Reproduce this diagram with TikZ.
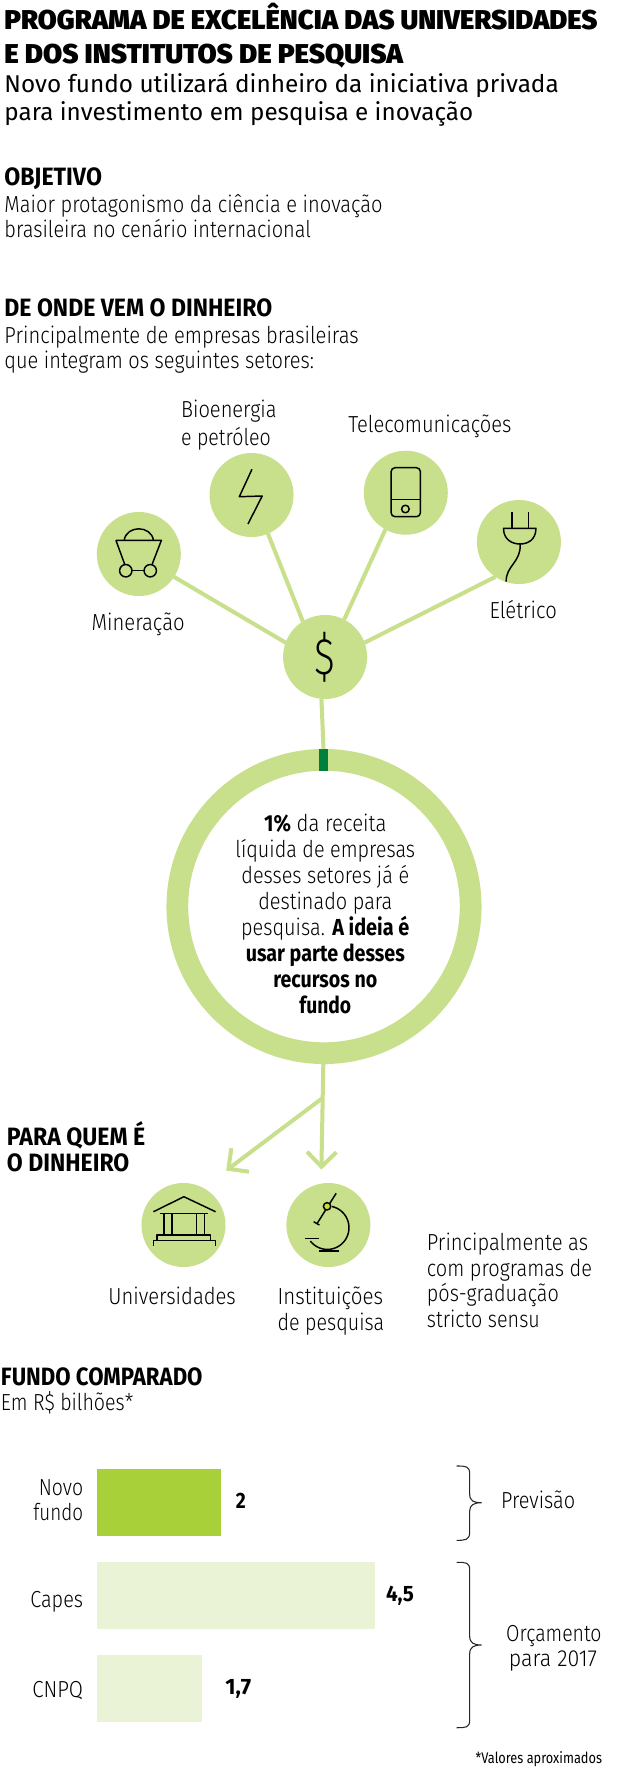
\documentclass[tikz,border=0pt]{standalone}
\usepackage{fontspec}
\usepackage{graphicx}
\usetikzlibrary{arrows.meta}
\newfontfamily\fl{Fira Sans Light}
\newfontfamily\fr{Fira Sans}
\newfontfamily\fb{Fira Sans}
\newfontfamily\fx{Fira Sans Black}
\newcommand\ftitle{\fx\fontsize{20.4}{20.4}\selectfont}
\newcommand\fsub{\fr\fontsize{18.2}{18.2}\selectfont}
\newcommand\fhead{\fb\bfseries\fontsize{18.8}{18.8}\selectfont}
\newcommand\fbody{\fl\fontsize{17.4}{17.4}\selectfont}
\newcommand\fval{\fb\bfseries\fontsize{16.7}{16.7}\selectfont}
\newcommand\fnote{\fr\fontsize{11.5}{11.5}\selectfont}
\newcommand\fring{\fb\bfseries\fontsize{17.4}{17.4}\selectfont}
\newlength\pxw
\newcommand\fitw[2]{\setlength\pxw{#1pt}\setlength\pxw{0.7463\pxw}\resizebox{\pxw}{\height}{#2}}
\newcommand\lab[7]{\node[txt,anchor=#5] (#1) at (#2,#3) {\fitw{#4}{#6#7}};}
\definecolor{lgreen}{HTML}{C8DF8B}
\definecolor{dgreen}{HTML}{00803C}
\definecolor{bgreen}{HTML}{A8D038}
\definecolor{pgreen}{HTML}{EAF3D6}
\definecolor{dotgreen}{HTML}{C4DC3C}
\tikzset{
 txt/.style={inner sep=0pt,outer sep=0pt,text=black},
 disc/.style={circle,fill=lgreen,minimum size=63pt,inner sep=0pt,outer sep=0pt},
 conn/.style={draw=lgreen,line width=3pt},
 arrowconn/.style={conn,-{Straight Barb[length=11pt,width=22pt,line width=3pt]}},
 icon/.style={draw=black,line width=1.1pt,line join=round},
 brace/.style={draw=black!85,line width=0.8pt},
 barfill/.style={inner sep=0pt,outer sep=0pt}
}
\begin{document}
\begin{tikzpicture}[x=0.7463pt,y=-0.75pt]
\useasboundingbox[fill=white] (0,0) rectangle (623.1,1771);
% header
\lab{t1}{4.5}{29.2}{596}{base west}{\ftitle}{PROGRAMA DE EXCELÊNCIA DAS UNIVERSIDADES}
\lab{t2}{4.5}{63}{400.5}{base west}{\ftitle}{E DOS INSTITUTOS DE PESQUISA}
\lab{s1}{4.5}{92.7}{557}{base west}{\fsub}{Novo fundo utilizará dinheiro da iniciativa privada}
\lab{s2}{4.5}{120.7}{471}{base west}{\fsub}{para investimento em pesquisa e inovação}
\lab{h1}{4.5}{185}{98}{base west}{\fhead}{OBJETIVO}
\lab{b1}{4.5}{212}{380}{base west}{\fbody}{Maior protagonismo da ciência e inovação}
\lab{b2}{4.5}{237}{308}{base west}{\fbody}{brasileira no cenário internacional}
\lab{h2}{4.5}{316.7}{269}{base west}{\fhead}{DE ONDE VEM O DINHEIRO}
\lab{b3}{4.5}{343}{356}{base west}{\fbody}{Principalmente de empresas brasileiras}
\lab{b4}{4.5}{368.7}{311}{base west}{\fbody}{que integram os seguintes setores:}
% ring
\node[circle,draw=lgreen,line width=16.3pt,minimum size=220pt,inner sep=0pt,outer sep=0pt] (ring) at (325.6,906.5) {};
\coordinate (ringtop) at (325.1,749);
\coordinate (ringbot) at (324.9,1064);
\coordinate (fork) at (324.2,1098);
\coordinate (tipI) at (323,1169.5);
\coordinate (tipU) at (227.3,1170.5);
\node[barfill,fill=dgreen,minimum width=6.4pt,minimum height=16.5pt] (tick) at (325.3,760) {};
% discs
\node[disc] (hub) at (326.7,657) {\resizebox*{15.5pt}{37.5pt}{\fl\$}};
\node[disc] (min) at (139.5,554) {};
\node[disc] (bio) at (252.8,495) {};
\node[disc] (tel) at (407.8,492.7) {};
\node[disc] (ele) at (521.5,542) {};
\node[disc] (uni) at (184.4,1225) {};
\node[disc] (ins) at (330,1225) {};
% connectors
\draw[conn] (hub.160) -- (min.-33);
\draw[conn] (hub.122) -- (bio.-67);
\draw[conn] (hub.63) -- (tel.241);
\draw[conn] (hub.20) -- (ele.236);
\draw[conn] (hub.265) -- (ringtop);
\draw[arrowconn] (ringbot) -- (tipI);
\draw[arrowconn] (fork) -- (tipU);
% labels
\lab{l1}{182}{417.7}{96}{base west}{\fbody}{Bioenergia}
\lab{l2}{182}{445.7}{90}{base west}{\fbody}{e petróleo}
\lab{l3}{350}{432}{164}{base west}{\fbody}{Telecomunicações}
\lab{l4}{92}{630}{93.6}{base west}{\fbody}{Mineração}
\lab{l5}{492}{618}{67.6}{base west}{\fbody}{Elétrico}
% icons
\draw[icon] (116.5,540.3) -- (162.2,540.3) -- (153,564) (116.5,540.3) -- (125.2,564);
\draw[icon] (124.8,540.3) .. controls (127,525) and (152,525) .. (154.2,540.3);
\draw[icon] (126.4,570.7) circle[radius=6.2];
\draw[icon] (151,570.7) circle[radius=6.2];
\draw[icon] (132.6,570.7) -- (144.8,570.7);
\draw[icon] (253.2,469.3) -- (240.5,496.7) -- (263.5,496) -- (249.2,524);
\draw[icon,rounded corners=3pt] (393,467.7) rectangle (422.5,516.7);
\draw[icon] (393,499.3) -- (422.5,499.3);
\draw[icon] (407.4,509) circle[radius=3.8];
\draw[icon] (514.3,512.3) -- (514.3,528.3) (531,512.3) -- (531,528.3);
\draw[icon] (506,528.3) .. controls (506,540) and (515,544) .. (522.7,544) .. controls (530,544) and (538.6,540) .. (538.6,528.3) -- cycle;
\draw[icon] (522.7,544) .. controls (524,562) and (508,566) .. (508.7,581.7);
% ring text
\lab{r1}{326.9}{831.7}{122.9}{base}{\fbody}{{\fb\bfseries 1\%} da receita}
\lab{r2}{326.9}{857.3}{180.6}{base}{\fbody}{líquida de empresas}
\lab{r3}{326.9}{883.3}{168.5}{base}{\fbody}{desses setores já é}
\lab{r4}{326.9}{909.3}{134.7}{base}{\fbody}{destinado para}
\lab{r5}{326.9}{935.3}{169.1}{base}{\fbody}{pesquisa. {\fb\bfseries A ideia é}}
\lab{r6}{326.9}{961}{159.8}{base}{\fring}{usar parte desses}
\lab{r7}{326.9}{987}{104.5}{base}{\fring}{recursos no}
\lab{r8}{326.9}{1013}{52}{base}{\fring}{fundo}
% para quem
\lab{h3}{7}{1145}{139}{base west}{\fhead}{PARA QUEM É}
\lab{h4}{7}{1171}{123}{base west}{\fhead}{O DINHEIRO}
\draw[icon] (154.2,1211.7) -- (184.8,1196.7) -- (216.6,1211.7);
\draw[icon] (161,1213.3) -- (209.5,1213.3);
\draw[icon] (165,1213.3) -- (165,1235) (172.9,1213.3) -- (172.9,1235) (197.5,1213.3) -- (197.5,1235) (205.5,1213.3) -- (205.5,1235);
\draw[icon] (158,1240.7) -- (158,1235) -- (211.5,1235) -- (211.5,1240.7);
\draw[icon] (154.2,1245.7) -- (154.2,1240.7) -- (216.6,1240.7) -- (216.6,1245.7);
\draw[icon] (337.8,1193.3) -- (318.8,1223.3);
\draw[icon] (315.2,1221.7) -- (321,1225);
\draw[icon] plot[domain=78:-142,samples=50] ({329+21.7*cos(\x)},{1227.7-21.7*sin(\x)});
\draw[icon] (306.8,1238.7) -- (321,1238.7);
\draw[icon] (320.3,1251) -- (340.6,1251);
\draw[icon,fill=dotgreen] (328.7,1206.3) circle[radius=3.7];
\lab{l6}{109}{1304}{128}{base west}{\fbody}{Universidades}
\lab{l7}{279}{1304}{106}{base west}{\fbody}{Instituições}
\lab{l8}{279}{1330}{107}{base west}{\fbody}{de pesquisa}
\lab{p1}{429}{1250}{162}{base west}{\fbody}{Principalmente as}
\lab{p2}{429}{1276}{166}{base west}{\fbody}{com programas de}
\lab{p3}{429}{1301.7}{132.6}{base west}{\fbody}{pós-graduação}
\lab{p4}{429}{1327}{113.5}{base west}{\fbody}{stricto sensu}
% chart
\lab{h5}{1}{1385}{202.5}{base west}{\fhead}{FUNDO COMPARADO}
\lab{b5}{1}{1410.7}{133}{base west}{\fbody}{Em R\$ bilhões*}
\path[fill=bgreen] (97.4,1469.3) rectangle (221.8,1536) node[coordinate] (barA) {};
\path[fill=pgreen] (97.4,1562.3) rectangle (376.8,1629) node[coordinate] (barB) {};
\path[fill=pgreen] (97.4,1655.3) rectangle (203,1722) node[coordinate] (barC) {};
\lab{c1}{83.5}{1495}{44.5}{base east}{\fbody}{Novo}
\lab{c2}{83.5}{1520}{50}{base east}{\fbody}{fundo}
\lab{c3}{83.5}{1607.7}{53}{base east}{\fbody}{Capes}
\lab{c4}{83.5}{1697}{51}{base east}{\fbody}{CNPQ}
\lab{v1}{237}{1508.7}{10}{base west}{\fval}{2}
\lab{v2}{388}{1601.7}{28}{base west}{\fval}{4,5}
\lab{v3}{226.5}{1694}{26}{base west}{\fval}{1,7}
\draw[brace] (459,1466) .. controls (468,1466) and (472,1466) .. (472,1474) -- (472,1494) .. controls (472,1501) and (476,1502.7) .. (484,1502.7) (484,1502.7) .. controls (476,1502.7) and (472,1505) .. (472,1511) -- (472,1532) .. controls (472,1540) and (468,1540.3) .. (459,1540.3);
\draw[brace] (459,1562.3) .. controls (468,1562.3) and (472,1562.3) .. (472,1570) -- (472,1636) .. controls (472,1643) and (476,1645) .. (484,1645) (484,1645) .. controls (476,1645) and (472,1647) .. (472,1654) -- (472,1720) .. controls (472,1727.7) and (468,1727.7) .. (459,1727.7);
\lab{n1}{503.6}{1508}{74.4}{base west}{\fbody}{Previsão}
\lab{n2}{508.7}{1641.7}{95.8}{base west}{\fbody}{Orçamento}
\lab{n3}{511.5}{1666.7}{88.5}{base west}{\fbody}{para 2017}
\lab{fn}{478}{1763}{127}{base west}{\fnote}{*Valores aproximados}
\end{tikzpicture}
\end{document}
